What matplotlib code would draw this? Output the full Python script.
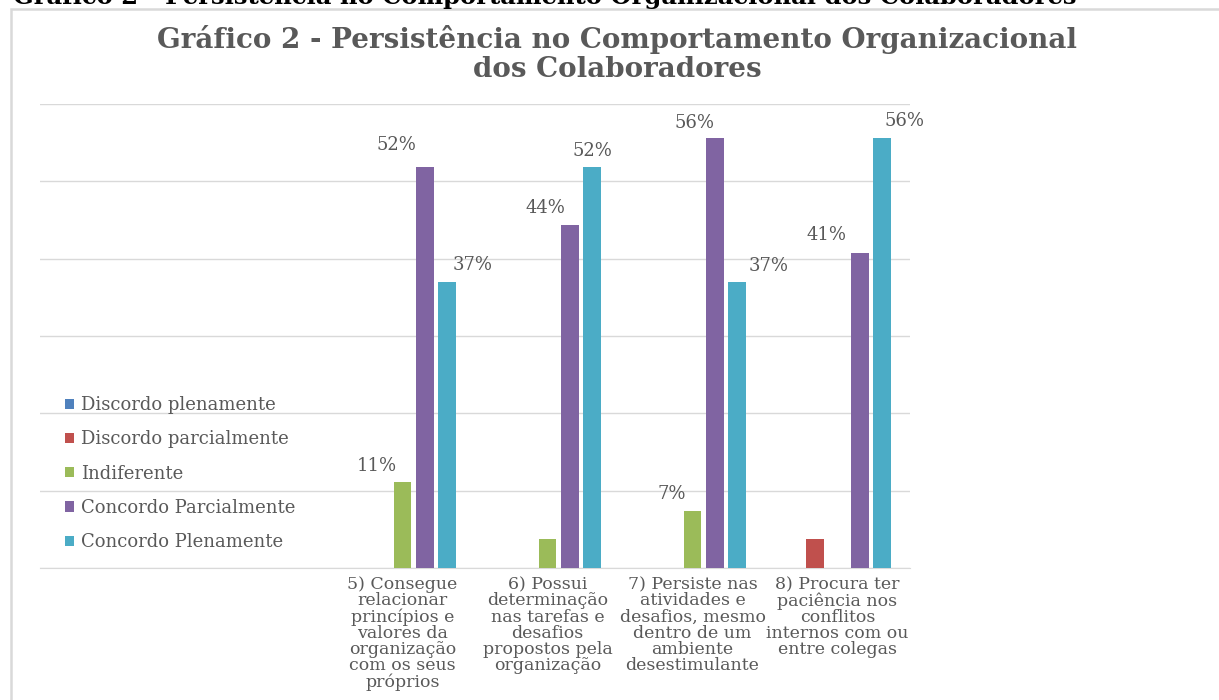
import numpy as np
import matplotlib.pyplot as plt
from matplotlib.patches import Rectangle

# data (percent of 27 answers)
categories = ['', '',
              '5) Consegue\nrelacionar\nprincípios e\nvalores da\norganização\ncom os seus\npróprios',
              '6) Possui\ndeterminação\nnas tarefas e\ndesafios\npropostos pela\norganização',
              '7) Persiste nas\natividades e\ndesafios, mesmo\ndentro de um\nambiente\ndesestimulante',
              '8) Procura ter\npaciência nos\nconflitos\ninternos com ou\nentre colegas']
series = ['Discordo plenamente', 'Discordo parcialmente', 'Indiferente',
          'Concordo Parcialmente', 'Concordo Plenamente']
discordo_plen = [0, 0, 0, 0, 0, 0]
discordo_parc = [0, 0, 0, 0, 0, 3.7]
indiferente = [0, 0, 11.1, 3.7, 7.4, 0]
concordo_parc = [0, 0, 51.9, 44.4, 55.6, 40.7]
concordo_plen = [0, 0, 37.0, 51.9, 37.0, 55.6]
colors = ['#4F81BD', '#C0504D', '#9BBB59', '#8064A2', '#4BACC6']

# which bars carry a label, with its offset in pixels from the bar top
label_offsets = {
    (2, 2): (-26, 16), (2, 3): (-28, 22), (2, 4): (25, 17),
    (3, 3): (-24, 17), (3, 4): (0, 16),
    (4, 2): (-21, 17), (4, 3): (-20, 15), (4, 4): (31, 16),
    (5, 3): (-33, 18), (5, 4): (22, 17),
}

W, H = 1219, 700
grey = '#595959'
serif = 'DejaVu Serif'

fig = plt.figure(figsize=(W / 100, H / 100), dpi=100)

# chart frame
fig.patches.append(Rectangle((11 / W, -0.1), 1.2, 1.1 - 9 / H, transform=fig.transFigure,
                             fill=False, edgecolor='#D9D9D9', lw=1.8))

# caption of the page, cut at the top
fig.text(545 / W, 1 - 4 / H,
         'Gráfico 2 - Persistência no Comportamento Organizacional dos Colaboradores',
         ha='center', va='baseline', fontsize=17.5, fontweight='bold', family=serif, color='black')

fig.text(617 / W, 1 - 54 / H,
         'Gráfico 2 - Persistência no Comportamento Organizacional\ndos Colaboradores',
         ha='center', va='center', fontsize=20, fontweight='bold', family=serif,
         color=grey, linespacing=1.08)

ax = fig.add_axes([40 / W, 1 - 568 / H, 870 / W, (568 - 104) / H])

x = np.arange(len(categories))
pitch = 0.154
width = 0.124
all_vals = [discordo_plen, discordo_parc, indiferente, concordo_parc, concordo_plen]
for i, (name, vals) in enumerate(zip(series, all_vals)):
    pos = x + (i - 2) * pitch
    ax.bar(pos, vals, width, color=colors[i], label=name, zorder=3)
    for j, v in enumerate(vals):
        if (j, i) in label_offsets:
            dx, dy = label_offsets[(j, i)]
            ax.annotate('%.0f%%' % v, (pos[j], v), xytext=(dx, dy), textcoords='offset pixels',
                        ha='center', va='center', fontsize=13, family=serif, color=grey)

ax.set_xlim(-0.5, len(categories) - 0.5)
ax.set_ylim(0, 60)
ax.set_yticks(np.arange(0, 61, 10))
ax.set_yticklabels([])
ax.grid(axis='y', color='#D9D9D9', lw=1, zorder=0)
ax.tick_params(axis='both', length=0)
ax.set_xticks(x)
ax.set_xticklabels(categories, fontsize=12.5, family=serif, color=grey, linespacing=0.93)
ax.tick_params(axis='x', pad=6)
for s in ['top', 'left', 'right']:
    ax.spines[s].set_visible(False)
ax.spines['bottom'].set_color('#D9D9D9')

leg = ax.legend(loc='upper left', bbox_to_anchor=(58 / W, 1 - 389 / H),
                bbox_transform=fig.transFigure, frameon=False,
                prop={'family': serif, 'size': 13}, labelcolor=grey,
                handlelength=0.5, handleheight=0.5, handletextpad=0.4,
                labelspacing=0.9, borderaxespad=0)

fig.savefig('out.png', dpi=100, facecolor='white')
